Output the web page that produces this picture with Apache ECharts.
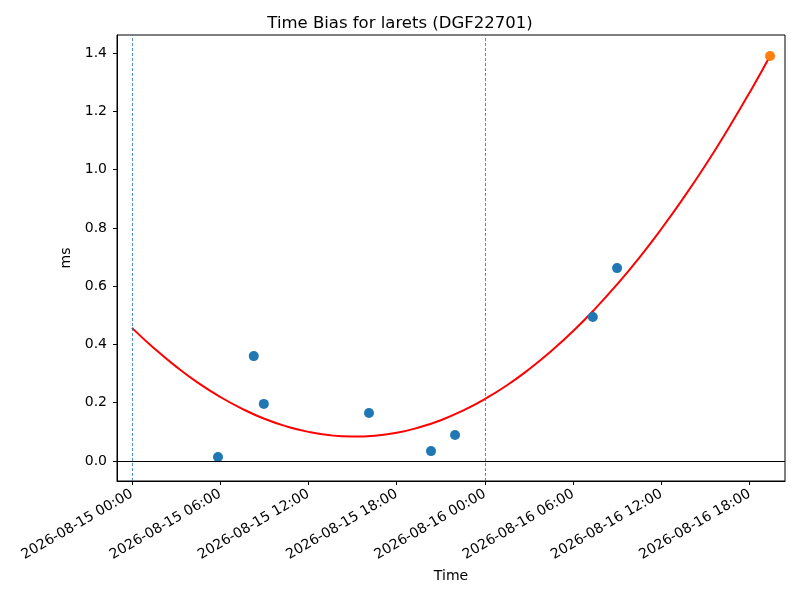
<!DOCTYPE html>
<html lang="en">
<head>
	<meta charset="UTF-8">
	<script src="https://cdn.jsdelivr.net/npm/echarts@6/dist/echarts.min.js"></script>
	<title>Time Bias</title>
</head>
<body style="margin:0">
<div id="main" style="width:800px;height:600px;"></div>
<script type="text/javascript">
	// measured points (UTC)
	var pointTimes = ['2026-08-15 05:51', '2026-08-15 08:17', '2026-08-15 08:58', '2026-08-15 16:07',
		'2026-08-15 20:20', '2026-08-15 21:58', '2026-08-16 07:20', '2026-08-16 08:59'];
	var pointValues = [0.014, 0.360, 0.196, 0.165, 0.034, 0.089, 0.494, 0.662];
	// latest point
	var lastTime = ['2026-08-16 19:23'];
	var lastValue = [1.390];
	// fitted curve
	var fitTimes = ['2026-08-15 00:00', '2026-08-15 01:30', '2026-08-15 03:00', '2026-08-15 04:30',
		'2026-08-15 06:00', '2026-08-15 07:30', '2026-08-15 09:00', '2026-08-15 10:30',
		'2026-08-15 12:00', '2026-08-15 13:30', '2026-08-15 15:00', '2026-08-15 16:30',
		'2026-08-15 18:00', '2026-08-15 19:30', '2026-08-15 21:00', '2026-08-15 22:30',
		'2026-08-16 00:00', '2026-08-16 01:30', '2026-08-16 03:00', '2026-08-16 04:30',
		'2026-08-16 06:00', '2026-08-16 07:30', '2026-08-16 09:00', '2026-08-16 10:30',
		'2026-08-16 12:00', '2026-08-16 13:30', '2026-08-16 15:00', '2026-08-16 16:30',
		'2026-08-16 18:00', '2026-08-16 19:23'];
	var fitValues = [0.457, 0.387, 0.324, 0.268, 0.220, 0.179, 0.145, 0.119,
		0.100, 0.088, 0.084, 0.087, 0.097, 0.115, 0.140, 0.173,
		0.213, 0.260, 0.315, 0.377, 0.446, 0.523, 0.607, 0.698,
		0.797, 0.903, 1.016, 1.137, 1.265, 1.390];
	// dashed day markers
	var dayLines = ['2026-08-15 00:00', '2026-08-16 00:00'];
	// ticks
	var xTicks = ['2026-08-15 00:00', '2026-08-15 06:00', '2026-08-15 12:00', '2026-08-15 18:00',
		'2026-08-16 00:00', '2026-08-16 06:00', '2026-08-16 12:00', '2026-08-16 18:00'];
	var yTicks = [0, 0.2, 0.4, 0.6, 0.8, 1.0, 1.2, 1.4];

	function ms(s) {
		return Date.parse(s.replace(' ', 'T') + ':00Z');
	}
	function pad(n) { return n < 10 ? '0' + n : '' + n; }
	function fmt(v) {
		var d = new Date(v);
		return d.getUTCFullYear() + '-' + pad(d.getUTCMonth() + 1) + '-' + pad(d.getUTCDate()) +
			' ' + pad(d.getUTCHours()) + ':' + pad(d.getUTCMinutes());
	}
	function pairs(ts, vs) {
		return ts.map(function (t, i) { return [ms(t), vs[i]]; });
	}

	var chart = echarts.init(document.getElementById('main'));
	var font = 'DejaVu Sans';
	var dash = {color: '#1f77b4', type: [3, 2], width: 0.8};
	var option = {
		animation: false,
		textStyle: {fontFamily: font},
		title: {
			text: 'Time Bias for larets (DGF22701)',
			left: 'center',
			top: 10,
			textStyle: {fontFamily: font, fontSize: 16.5, fontWeight: 'normal', color: '#000'}
		},
		grid: {left: 117, right: 15, top: 35, bottom: 119, show: true, borderColor: '#000', borderWidth: 1},
		xAxis: {
			type: 'value',
			min: ms('2026-08-14 22:59'),
			max: ms('2026-08-16 20:24'),
			name: 'Time',
			nameLocation: 'middle',
			nameGap: 88,
			nameTextStyle: {fontFamily: font, fontSize: 14, color: '#000'},
			axisLine: {onZero: false, lineStyle: {color: '#000'}},
			axisTick: {show: true, length: 4, lineStyle: {color: '#000'}, customValues: xTicks.map(ms)},
			axisLabel: {
				customValues: xTicks.map(ms),
				rotate: 30,
				margin: 12,
				fontFamily: font, fontSize: 14, color: '#000',
				formatter: function (v) { return fmt(v); }
			},
			splitLine: {show: false}
		},
		yAxis: {
			type: 'value',
			min: -0.0686,
			max: 1.462,
			name: 'ms',
			nameLocation: 'middle',
			nameGap: 40,
			nameTextStyle: {fontFamily: font, fontSize: 14, color: '#000'},
			axisLine: {show: true, lineStyle: {color: '#000'}},
			axisTick: {show: true, length: 4, lineStyle: {color: '#000'}, customValues: yTicks},
			axisLabel: {
				customValues: yTicks,
				margin: 10,
				fontFamily: font, fontSize: 14, color: '#000',
				formatter: function (v) { return v.toFixed(1); }
			},
			splitLine: {show: false}
		},
		series: [
			{
				type: 'line',
				data: pairs(fitTimes, fitValues),
				smooth: true,
				showSymbol: false,
				lineStyle: {color: '#ff0000', width: 2},
				z: 3,
				markLine: {
					silent: true,
					symbol: 'none',
					label: {show: false},
					lineStyle: dash,
					data: dayLines.map(function (t) { return {xAxis: ms(t), lineStyle: dash}; })
						.concat([{yAxis: 0, lineStyle: {color: '#000', type: 'solid', width: 1}}])
				}
			},
			{
				type: 'scatter',
				data: pairs(pointTimes, pointValues),
				symbolSize: 10,
				itemStyle: {color: '#1f77b4', opacity: 1},
				z: 4
			},
			{
				type: 'scatter',
				data: pairs(lastTime, lastValue),
				symbolSize: 10,
				itemStyle: {color: '#ff7f0e', opacity: 1},
				z: 4
			}
		]
	};
	chart.setOption(option);
</script>
</body>
</html>
